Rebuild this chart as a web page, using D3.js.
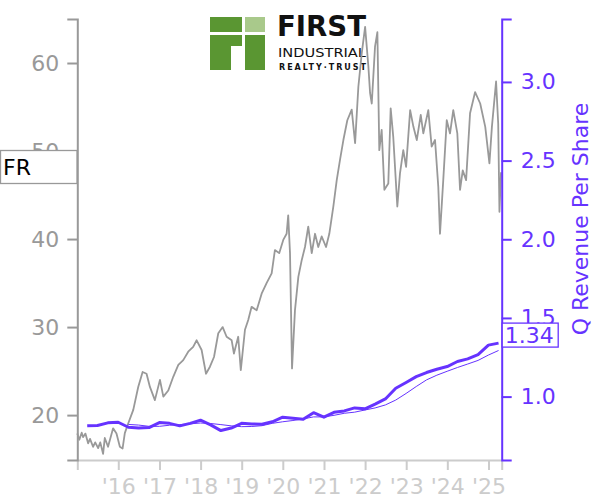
<!DOCTYPE html>
<html><head><meta charset="utf-8">
<script src="https://cdn.jsdelivr.net/npm/d3@7"></script>
<style>html,body{margin:0;padding:0;background:#fff;} svg{display:block;}</style>
</head><body><svg id="c" width="600" height="500"></svg>
<script>
// ---------- DATA ----------
const priceDates = ["2015-01-02","2015-01-20","2015-02-10","2015-02-23","2015-03-15","2015-04-08","2015-04-25","2015-05-22","2015-06-10","2015-07-06","2015-07-25","2015-08-19","2015-09-03","2015-10-02","2015-11-16","2015-12-16","2016-01-15","2016-02-08","2016-02-28","2016-03-29","2016-05-13","2016-06-26","2016-08-04","2016-09-08","2016-10-08","2016-11-21","2017-01-05","2017-02-04","2017-03-20","2017-05-03","2017-06-17","2017-07-31","2017-09-13","2017-10-27","2017-11-27","2018-01-10","2018-02-18","2018-03-25","2018-04-30","2018-06-07","2018-07-16","2018-08-20","2018-10-04","2018-10-24","2018-12-01","2018-12-24","2019-01-30","2019-02-28","2019-03-30","2019-05-14","2019-06-27","2019-08-10","2019-09-24","2019-10-23","2019-11-30","2020-01-05","2020-02-04","2020-02-18","2020-03-05","2020-03-23","2020-04-18","2020-05-18","2020-06-17","2020-07-16","2020-08-14","2020-09-14","2020-10-13","2020-11-11","2020-12-11","2021-01-19","2021-02-17","2021-03-25","2021-04-24","2021-05-23","2021-06-22","2021-07-27","2021-09-04","2021-10-04","2021-11-02","2021-12-02","2022-01-01","2022-01-30","2022-02-14","2022-03-01","2022-03-30","2022-04-20","2022-05-07","2022-05-28","2022-06-21","2022-07-26","2022-08-16","2022-09-08","2022-10-14","2022-11-07","2022-12-06","2022-12-31","2023-02-05","2023-03-06","2023-04-05","2023-05-10","2023-06-02","2023-07-16","2023-08-15","2023-09-14","2023-10-13","2023-10-28","2023-11-26","2023-12-27","2024-01-25","2024-02-23","2024-03-30","2024-04-23","2024-05-17","2024-06-16","2024-07-21","2024-09-04","2024-10-19","2024-12-03","2025-01-09","2025-01-31","2025-03-09","2025-03-28","2025-04-08","2025-04-22"];
const priceValues = [17.9,17.2,18.0,17.5,17.9,16.8,17.3,16.4,16.9,16.25,16.9,15.6,17.4,16.4,18.5,17.9,16.4,16.2,17.95,19.05,20.6,23.2,24.9,24.7,23.2,21.7,24.0,22.1,22.8,24.35,25.7,26.25,27.2,27.75,28.5,27.4,24.7,25.5,26.6,29.3,30.0,28.9,28.5,27.0,28.9,25.1,29.7,30.8,32.3,31.9,33.8,35.0,36.1,38.75,38.4,39.9,40.6,42.7,38.4,25.3,31.9,35.7,37.6,39.1,41.4,38.4,40.6,39.1,40.3,39.1,40.6,43.7,46.7,49.0,51.25,53.5,54.7,50.9,57.3,61.1,64.1,59.6,56.6,55.4,61.85,63.5,50.1,52.4,45.6,46.3,54.85,51.6,43.7,47.5,50.1,48.2,54.65,52.75,51.25,54.1,52.0,54.65,50.5,51.25,45.9,40.6,46.7,53.5,52.0,54.65,52.0,45.6,47.8,46.7,54.3,56.7,55.4,52.75,48.6,52.75,57.9,53.1,43.1,47.6];

const revQuarters = ["2015-03-31","2015-06-30","2015-09-30","2015-12-31","2016-03-31","2016-06-30","2016-09-30","2016-12-31","2017-03-31","2017-06-30","2017-09-30","2017-12-31","2018-03-31","2018-06-30","2018-09-30","2018-12-31","2019-03-31","2019-06-30","2019-09-30","2019-12-31","2020-03-31","2020-06-30","2020-09-30","2020-12-31","2021-03-31","2021-06-30","2021-09-30","2021-12-31","2022-03-31","2022-06-30","2022-09-30","2022-12-31","2023-03-31","2023-06-30","2023-09-30","2023-12-31","2024-03-31","2024-06-30","2024-09-30","2024-12-31","2025-03-31"];
const revValues = [0.814,0.816,0.833,0.837,0.805,0.800,0.803,0.835,0.830,0.814,0.830,0.850,0.820,0.784,0.800,0.830,0.826,0.824,0.840,0.869,0.862,0.856,0.898,0.869,0.900,0.909,0.928,0.922,0.952,0.985,1.053,1.090,1.127,1.153,1.174,1.191,1.223,1.240,1.267,1.327,1.340];

const avgQuarters = ["2016-03-31","2016-06-30","2016-09-30","2016-12-31","2017-03-31","2017-06-30","2017-09-30","2017-12-31","2018-03-31","2018-06-30","2018-09-30","2018-12-31","2019-03-31","2019-06-30","2019-09-30","2019-12-31","2020-03-31","2020-06-30","2020-09-30","2020-12-31","2021-03-31","2021-06-30","2021-09-30","2021-12-31","2022-03-31","2022-06-30","2022-09-30","2022-12-31","2023-03-31","2023-06-30","2023-09-30","2023-12-31","2024-03-31","2024-06-30","2024-09-30","2024-12-31","2025-03-31"];
const avgValues = [0.823,0.819,0.811,0.811,0.818,0.822,0.827,0.832,0.829,0.822,0.814,0.809,0.810,0.815,0.830,0.840,0.848,0.858,0.871,0.871,0.881,0.894,0.901,0.915,0.928,0.947,0.978,1.020,1.064,1.106,1.136,1.161,1.185,1.207,1.230,1.264,1.293];

const leftTicks = [20, 30, 40, 50, 60];
const rightTicks = [1.0, 1.5, 2.0, 2.5, 3.0];
const yearTicks = ["2016-01-01","2017-01-01","2018-01-01","2019-01-01","2020-01-01","2021-01-01","2022-01-01","2023-01-01","2024-01-01","2025-01-01"];
const yearLabels = ["'16","'17","'18","'19","'20","'21","'22","'23","'24","'25"];
const xDomain = ["2015-01-02", "2025-04-28"];
const priceDomain = [14.9, 65.0];
const revDomain = [0.597, 3.40];
const tickerText = "FR";
const lastRevText = "1.34";
const rightTitle = "Q Revenue Per Share";

// ---------- CHART ----------
const parse = d3.timeParse("%Y-%m-%d");
const PURPLE = "#6633ff";
const FONT = "DejaVu Sans, sans-serif";
const svg = d3.select("#c");
svg.append("rect").attr("width",600).attr("height",500).attr("fill","#fff");

const L = 77.3, R = 501.7, T = 19, B = 460;
const x = d3.scaleTime().domain(xDomain.map(parse)).range([L, R]);
const yL = d3.scaleLinear().domain(priceDomain).range([B, T]);
const yR = d3.scaleLinear().domain(revDomain).range([B, T]);

// Logo
const logo = svg.append("g");
const dark = "#5a9632", light = "#a9c98b";
logo.append("rect").attr("x",210).attr("y",17).attr("width",32).attr("height",15).attr("fill",dark);
logo.append("rect").attr("x",245).attr("y",17).attr("width",20).attr("height",15).attr("fill",light);
logo.append("rect").attr("x",210).attr("y",35).attr("width",32).attr("height",11).attr("fill",dark);
logo.append("rect").attr("x",210).attr("y",46).attr("width",21).attr("height",24).attr("fill",dark);
logo.append("rect").attr("x",245).attr("y",35).attr("width",20).attr("height",35).attr("fill",dark);
logo.append("text").attr("x",277).attr("y",35.5).attr("font-family",FONT).attr("font-weight","bold")
  .attr("font-size",27.5).attr("textLength",89).attr("lengthAdjust","spacingAndGlyphs").attr("fill","#111").text("FIRST");
logo.append("text").attr("x",278).attr("y",56.7).attr("font-family",FONT)
  .attr("font-size",13).attr("textLength",88).attr("lengthAdjust","spacingAndGlyphs").attr("fill","#111").text("INDUSTRIAL");
logo.append("text").attr("x",279).attr("y",69.5).attr("font-family",FONT).attr("font-weight","bold")
  .attr("font-size",8).attr("textLength",87).attr("lengthAdjust","spacing").attr("fill","#111").text("REALTY·TRUST");

// Price line
const priceData = priceDates.map((d,i)=>({d:parse(d), v:priceValues[i]}));
svg.append("path").datum(priceData)
  .attr("fill","none").attr("stroke","#999").attr("stroke-width",1.8).attr("stroke-linejoin","round")
  .attr("d", d3.line().x(p=>x(p.d)).y(p=>yL(p.v)));

// Revenue lines
const avgData = avgQuarters.map((d,i)=>({d:parse(d), v:avgValues[i]}));
svg.append("path").datum(avgData)
  .attr("fill","none").attr("stroke",PURPLE).attr("stroke-width",1)
  .attr("d", d3.line().x(p=>x(p.d)).y(p=>yR(p.v)));
const revData = revQuarters.map((d,i)=>({d:parse(d), v:revValues[i]}));
svg.append("path").datum(revData)
  .attr("fill","none").attr("stroke",PURPLE).attr("stroke-width",3).attr("stroke-linejoin","round")
  .attr("d", d3.line().x(p=>x(p.d)).y(p=>yR(p.v)));

// Bottom axis
const gx = svg.append("g").attr("transform",`translate(0,${B})`)
  .call(d3.axisBottom(x).tickValues(yearTicks.map(parse)).tickFormat((d,i)=>yearLabels[i])
    .tickSize(10).tickSizeOuter(10).tickPadding(8));
gx.selectAll("path,line").attr("stroke","#ccc").attr("stroke-width",2);
gx.selectAll("text").attr("fill","#ccc").attr("font-size",22).attr("font-family",FONT);

// Left axis
const gl = svg.append("g").attr("transform",`translate(${L},0)`)
  .call(d3.axisLeft(yL).tickValues(leftTicks).tickSize(10).tickSizeOuter(10).tickPadding(8));
gl.selectAll("path,line").attr("stroke","#999").attr("stroke-width",2);
gl.selectAll("text").attr("fill","#999").attr("font-size",22).attr("font-family",FONT);

// Right axis
const gr = svg.append("g").attr("transform",`translate(${R},0)`)
  .call(d3.axisRight(yR).tickValues(rightTicks).tickFormat(d3.format(".1f")).tickSize(10).tickSizeOuter(10).tickPadding(9));
gr.selectAll("path,line").attr("stroke",PURPLE).attr("stroke-width",2);
gr.selectAll("text").attr("fill",PURPLE).attr("font-size",22).attr("font-family",FONT);

svg.append("text").attr("transform","translate(588,219) rotate(-90)").attr("text-anchor","middle")
  .attr("font-family",FONT).attr("font-size",22).attr("fill",PURPLE).text(rightTitle);

// Ticker box
svg.append("rect").attr("x",0.5).attr("y",150.5).attr("width",76.5).attr("height",33)
  .attr("fill","#fff").attr("stroke","#999").attr("stroke-width",1.3);
svg.append("text").attr("x",3).attr("y",175).attr("font-family",FONT).attr("font-size",22).attr("fill","#000").text(tickerText);

// Last revenue box
const lastY = yR(revValues[revValues.length-1]);
svg.append("rect").attr("x",R+0.5).attr("y",lastY-20).attr("width",56).attr("height",24)
  .attr("fill","#fff").attr("stroke",PURPLE).attr("stroke-width",1.3);
svg.append("text").attr("x",R+3).attr("y",lastY).attr("font-family",FONT).attr("font-size",22).attr("fill",PURPLE).text(lastRevText);
</script></body></html>
